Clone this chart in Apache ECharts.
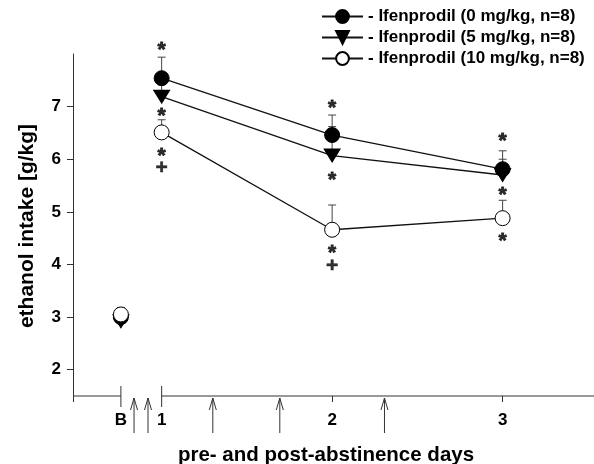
<!DOCTYPE html>
<html lang="en">
<head>
    <meta charset="UTF-8">
    <title>ethanol intake</title>
    <script src="https://cdn.jsdelivr.net/npm/echarts@6/dist/echarts.min.js"></script>
    <style>
        html, body { margin: 0; padding: 0; background: #fff; }
        #main { width: 594px; height: 464px; }
    </style>
</head>
<body>
<div id="main"></div>
<script>
    // 数据
    var xLabels = ['B', '1', '2', '3'];
    var xDays = [0.761, 1, 2, 3];
    var seriesNames = ['Ifenprodil (0 mg/kg, n=8)', 'Ifenprodil (5 mg/kg, n=8)', 'Ifenprodil (10 mg/kg, n=8)'];
    var ifen0 = [3.0, 7.54, 6.46, 5.81];
    var ifen0Err = [0.17, 0.40, 0.38, 0.35];
    var ifen5 = [2.92, 7.19, 6.07, 5.70];
    var ifen5Err = [0.20, 0.35, 0.55, 0.30];
    var ifen10 = [3.05, 6.51, 4.66, 4.88];
    var ifen10Err = [0.13, 0.24, 0.47, 0.34];
    var yTicks = [2, 3, 4, 5, 6, 7];
    // significance marks [day, value]
    var starMarks = [[1, 8.17], [1, 6.905], [1, 6.15], [2, 7.065], [2, 5.70], [2, 4.30], [3, 6.43], [3, 5.42], [3, 4.53]];
    var plusMarks = [[1, 5.83], [2, 3.97]];
    // injection arrows (days)
    var arrowDays = [0.838, 0.92, 1.30, 1.693, 2.307];
    var xMin = 0.48, xMax = 3.536, yMin = 1.5, yMax = 8;
    var axisSegments = [[xMin, 0.761], [1, xMax]];
    var breakTicks = [0.761, 1];

    var FONT = 'Liberation Sans, Arial, Helvetica, sans-serif';

    function pts(vals) {
        return xDays.map(function (d, i) { return [d, vals[i]]; });
    }
    function errPts(vals, errs) {
        return xDays.map(function (d, i) { return [d, vals[i], errs[i]]; });
    }

    var symbols = [
        { symbol: 'circle', size: 15, color: '#000', rotate: 0 },
        { symbol: 'triangle', size: [16, 13], color: '#000', rotate: 180 },
        { symbol: 'circle', size: 15, color: '#fff', rotate: 0 }
    ];
    var groups = [[ifen0, ifen0Err], [ifen5, ifen5Err], [ifen10, ifen10Err]];

    var series = [];

    // error bars (behind markers)
    groups.forEach(function (g) {
        series.push({
            type: 'custom',
            silent: true,
            z: 1,
            data: errPts(g[0], g[1]),
            renderItem: function (params, api) {
                var x = api.value(0), y = api.value(1), e = api.value(2);
                var p0 = api.coord([x, y]);
                var p1 = api.coord([x, y + e]);
                var st = { stroke: '#444', lineWidth: 1 };
                return {
                    type: 'group',
                    children: [
                        { type: 'line', shape: { x1: p0[0], y1: p0[1], x2: p1[0], y2: p1[1] }, style: st },
                        { type: 'line', shape: { x1: p1[0] - 4, y1: p1[1], x2: p1[0] + 4, y2: p1[1] }, style: st }
                    ]
                };
            }
        });
    });

    // lines days 1-3 + markers
    groups.forEach(function (g, k) {
        var s = symbols[k];
        series.push({
            name: seriesNames[k],
            type: 'line',
            z: 3,
            data: pts(g[0]).slice(1),
            symbol: s.symbol,
            symbolSize: s.size,
            symbolRotate: s.rotate,
            showSymbol: true,
            lineStyle: { color: '#111', width: 1.3 },
            itemStyle: { color: s.color, borderColor: '#000', borderWidth: 1, opacity: 1 }
        });
        series.push({
            name: seriesNames[k],
            type: 'scatter',
            z: 3,
            data: pts(g[0]).slice(0, 1),
            symbol: s.symbol,
            symbolSize: s.size,
            symbolRotate: s.rotate,
            itemStyle: { color: s.color, borderColor: '#000', borderWidth: 1, opacity: 1 }
        });
    });

    // broken x axis line
    series.push({
        type: 'custom',
        silent: true,
        z: 2,
        data: axisSegments,
        renderItem: function (params, api) {
            var a = api.coord([api.value(0), yMin]);
            var b = api.coord([api.value(1), yMin]);
            return { type: 'line', shape: { x1: a[0], y1: a[1], x2: b[0], y2: b[1] }, style: { stroke: '#333', lineWidth: 1 } };
        }
    });
    series.push({
        type: 'custom',
        silent: true,
        z: 2,
        data: breakTicks.map(function (d) { return [d, yMin]; }),
        renderItem: function (params, api) {
            var p = api.coord([api.value(0), yMin]);
            return { type: 'line', shape: { x1: p[0], y1: p[1] - 10, x2: p[0], y2: p[1] + 11 }, style: { stroke: '#333', lineWidth: 1 } };
        }
    });
    // arrows
    series.push({
        type: 'custom',
        silent: true,
        z: 2,
        data: arrowDays.map(function (d) { return [d, yMin]; }),
        renderItem: function (params, api) {
            var p = api.coord([api.value(0), yMin]);
            var x = p[0], top = p[1] + 2, bot = p[1] + 37;
            var st = { stroke: '#333', lineWidth: 1, fill: null };
            return {
                type: 'group',
                children: [
                    { type: 'line', shape: { x1: x, y1: top, x2: x, y2: bot }, style: st },
                    { type: 'polyline', shape: { points: [[x - 3.5, top + 12], [x, top], [x + 3.5, top + 12]] }, style: st }
                ]
            };
        }
    });

    // significance marks
    series.push({
        type: 'scatter',
        silent: true,
        clip: false,
        z: 4,
        data: starMarks,
        symbolSize: 1,
        itemStyle: { color: 'rgba(0,0,0,0)' },
        label: { show: true, position: 'inside', formatter: '*', offset: [0, 5],
            fontSize: 21, fontWeight: 'bold', fontFamily: FONT, color: '#000',
            textBorderColor: '#000', textBorderWidth: 0.8 }
    });
    series.push({
        type: 'scatter',
        silent: true,
        clip: false,
        z: 4,
        data: plusMarks,
        symbolSize: 1,
        itemStyle: { color: 'rgba(0,0,0,0)' },
        label: { show: true, position: 'inside', formatter: '+', offset: [0, 0],
            fontSize: 21, fontWeight: 'bold', fontFamily: FONT, color: '#000',
            textBorderColor: '#000', textBorderWidth: 0.5 }
    });

    var myChart = echarts.init(document.getElementById('main'));
    var option = {
        animation: false,
        backgroundColor: '#fff',
        grid: { left: 73, right: 0, top: 54, bottom: 68 },
        legend: {
            data: seriesNames,
            orient: 'vertical',
            left: 316,
            top: 3,
            itemWidth: 41,
            itemHeight: 16,
            itemGap: 4,
            formatter: '- {name}',
            selectedMode: false,
            textStyle: { fontFamily: FONT, fontWeight: 'bold', fontSize: 17, color: '#000' }
        },
        xAxis: {
            type: 'value',
            min: xMin,
            max: xMax,
            splitLine: { show: false },
            axisLine: { show: false },
            axisTick: { show: true, inside: false, length: 6, customValues: [xMin, 2, 3], lineStyle: { color: '#333' } },
            axisLabel: {
                customValues: xDays,
                margin: 16,
                formatter: function (v) {
                    var i = xDays.indexOf(v);
                    return i >= 0 ? xLabels[i] : '';
                },
                fontFamily: FONT, fontWeight: 'bold', fontSize: 17, color: '#000'
            }
        },
        yAxis: {
            type: 'value',
            min: yMin,
            max: yMax,
            splitLine: { show: false },
            axisLine: { show: true, lineStyle: { color: '#333' } },
            axisTick: { show: true, inside: false, length: 6, customValues: yTicks, lineStyle: { color: '#333' } },
            axisLabel: {
                customValues: yTicks,
                margin: 12,
                fontFamily: FONT, fontWeight: 'bold', fontSize: 17, color: '#000'
            }
        },
        graphic: [
            {
                type: 'text',
                x: 27, y: 226,
                rotation: Math.PI / 2,
                style: { text: 'ethanol intake [g/kg]', fontFamily: FONT, fontWeight: 'bold', fontSize: 21,
                    fill: '#000', align: 'center', verticalAlign: 'middle' }
            },
            {
                type: 'text',
                x: 326, y: 455,
                style: { text: 'pre- and post-abstinence days', fontFamily: FONT, fontWeight: 'bold', fontSize: 20.5,
                    fill: '#000', align: 'center', verticalAlign: 'middle' }
            }
        ],
        series: series
    };
    myChart.setOption(option);
</script>
</body>
</html>
